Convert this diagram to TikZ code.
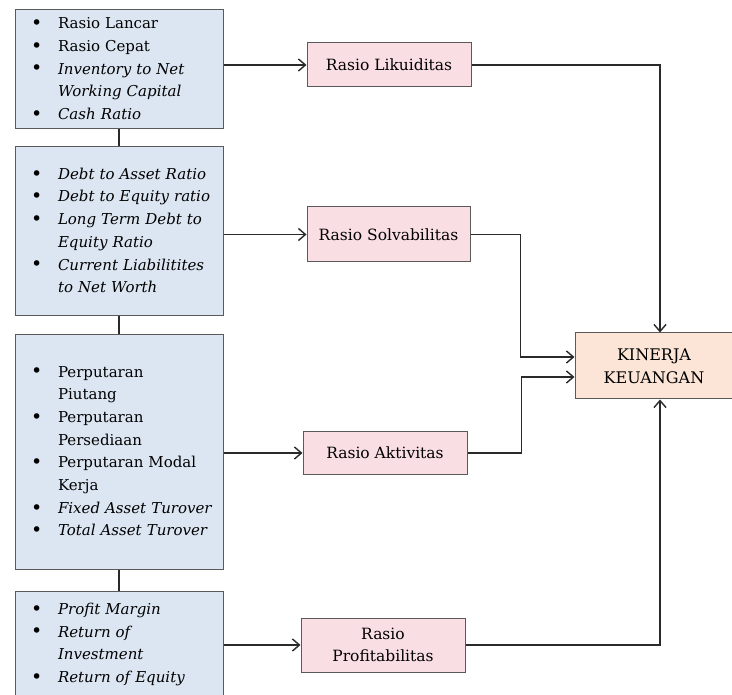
\documentclass[tikz,border=0pt]{standalone}
\usepackage{fontspec}
\setmainfont{DejaVu Serif}
\usetikzlibrary{arrows.meta}
\definecolor{bluefill}{HTML}{DCE6F2}
\definecolor{pinkfill}{HTML}{F9DEE3}
\definecolor{peachfill}{HTML}{FCE5D7}
\definecolor{edgegray}{HTML}{5A5A5A}
\definecolor{wire}{HTML}{2A2A2A}
\newcommand{\bl}{\makebox[27pt][l]{\raisebox{-0.8pt}{\fontsize{19}{19}\selectfont\textbullet}}}
\newcommand{\cn}{\hspace*{27pt}}
\newcommand{\listfont}{\fontsize{15}{22.7}\selectfont}
\tikzset{
  lbox/.style={draw=edgegray, line width=1pt, fill=bluefill, inner xsep=16pt,
    inner ysep=0pt, text width=176pt, align=left, font=\listfont},
  rbox/.style={draw=edgegray, line width=1pt, fill=pinkfill, inner sep=0pt,
    align=center, font=\fontsize{15.5}{22}\selectfont},
  kbox/.style={draw=edgegray, line width=1pt, fill=peachfill, inner sep=0pt,
    align=center, font=\fontsize{16}{23}\selectfont},
  link/.style={draw=wire, line width=1.4pt},
  arr/.style={link, -{Straight Barb[length=7pt,width=12pt]}}
}
\begin{document}
\begin{tikzpicture}[x=1pt,y=-1pt]
\useasboundingbox (0,0) rectangle (732,695);
\fill[white] (0,0) rectangle (732,695);

\node[lbox, minimum height=119pt] (b1) at (119,69.5) {\begin{tabular}{@{}l@{}}
\bl Rasio Lancar\\
\bl Rasio Cepat\\
\bl \textit{Inventory to Net}\\
\cn\textit{Working Capital}\\
\bl \textit{Cash Ratio}
\end{tabular}};

\node[lbox, minimum height=169pt] (b2) at (119,231.5) {\begin{tabular}{@{}l@{}}
\bl \textit{Debt to Asset Ratio}\\
\bl \textit{Debt to Equity ratio}\\
\bl \textit{Long Term Debt to}\\
\cn\textit{Equity Ratio}\\
\bl \textit{Current Liabilitites}\\
\cn\textit{to Net Worth}
\end{tabular}};

\node[lbox, minimum height=234pt] (b3) at (119,452) {\begin{tabular}{@{}l@{}}
\bl Perputaran\\
\cn Piutang\\
\bl Perputaran\\
\cn Persediaan\\
\bl Perputaran Modal\\
\cn Kerja\\
\bl \textit{Fixed Asset Turover}\\
\bl \textit{Total Asset Turover}
\end{tabular}};

\node[lbox, minimum height=106pt] (b4) at (119,644) {\begin{tabular}{@{}l@{}}
\bl \textit{Profit Margin}\\
\bl \textit{Return of}\\
\cn\textit{Investment}\\
\bl \textit{Return of Equity}
\end{tabular}};

\node[rbox, minimum width=164pt, minimum height=44pt] (lik) at (389,65) {Rasio Likuiditas};
\node[rbox, minimum width=163pt, minimum height=55pt] (solv) at (388.5,234.5) {Rasio Solvabilitas};
\node[rbox, minimum width=164pt, minimum height=42pt] (akt) at (385,453) {Rasio Aktivitas};
\node[rbox, minimum width=164pt, minimum height=54pt] (prof) at (383,645) {Rasio\\Profitabilitas};
\node[kbox, minimum width=158pt, minimum height=66pt] (kin) at (654,366) {KINERJA\\KEUANGAN};

\draw[link] (b1.south) -- (b2.north);
\draw[link] (b2.south) -- (b3.north);
\draw[link] (b3.south) -- (b4.north);

\draw[arr] (b1.east |- lik.west) -- (lik.west);
\draw[arr] (b2.east |- solv.west) -- (solv.west);
\draw[arr] (b3.east |- akt.west) -- (akt.west);
\draw[arr] (b4.east |- prof.west) -- (prof.west);

\draw[arr] (lik.east) -| ([xshift=6pt]kin.north);
\draw[arr] (solv.east) -- ++(50,0) |- ([yshift=9pt]kin.west);
\draw[arr] (akt.east) -- ++(54,0) |- ([yshift=-11pt]kin.west);
\draw[arr] (prof.east) -| ([xshift=6pt]kin.south);
\end{tikzpicture}
\end{document}
